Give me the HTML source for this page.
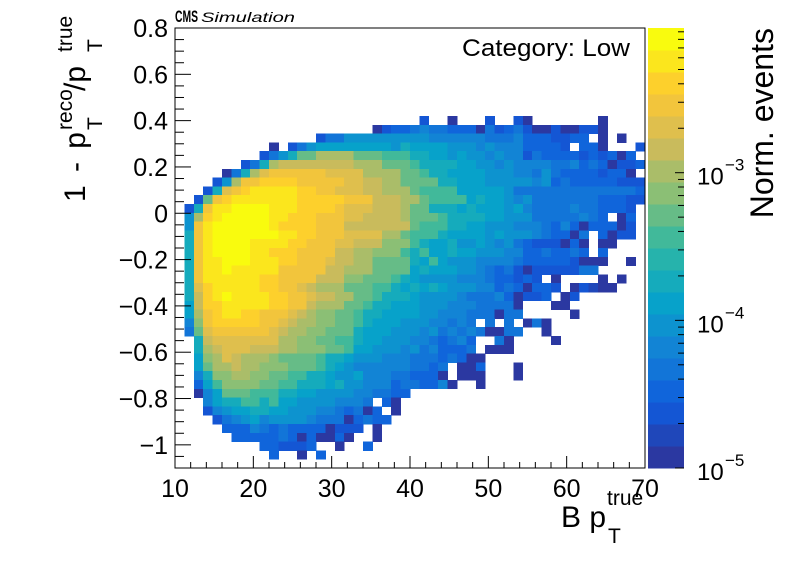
<!DOCTYPE html>
<html>
<head>
<meta charset="utf-8">
<style>
  html, body { margin: 0; padding: 0; background: #ffffff; }
  svg { display: block; font-family: "Liberation Sans", Arial, sans-serif; }
</style>
</head>
<body>
<svg id="chart" width="796" height="572" viewBox="0 0 796 572" xmlns="http://www.w3.org/2000/svg">
  <rect x="0" y="0" width="796" height="572" fill="#ffffff"/>
  <g id="cells" shape-rendering="crispEdges"></g>
  <g id="cbar" shape-rendering="crispEdges"></g>
  <rect x="175" y="28" width="470" height="440" fill="none" stroke="#000" stroke-width="1"/>
  <g id="xaxis"></g>
  <g id="yaxis"></g>
  <g id="caxis"></g>

  <text x="175" y="22" font-size="17" font-weight="bold" textLength="23" lengthAdjust="spacingAndGlyphs">CMS</text>
  <text x="201" y="22" font-size="14" font-style="italic" textLength="94" lengthAdjust="spacingAndGlyphs">Simulation</text>
  <text x="462" y="56" font-size="24" textLength="168" lengthAdjust="spacingAndGlyphs">Category: Low</text>

  <g>
    <text x="561" y="527" font-size="30">B p</text>
    <text x="608" y="543" font-size="21">T</text>
    <text x="607" y="505" font-size="21">true</text>
  </g>

  <g transform="translate(85,202) rotate(-90)">
    <text x="0" y="0" font-size="30" textLength="70" lengthAdjust="spacing">1 - p</text>
    <text x="72" y="17" font-size="21">T</text>
    <text x="72" y="-13" font-size="21">reco</text>
    <text x="111" y="0" font-size="30">/p</text>
    <text x="150" y="17" font-size="21">T</text>
    <text x="150" y="-13" font-size="21">true</text>
  </g>

  <text transform="translate(773,28) rotate(-90)" x="0" y="0" font-size="32" text-anchor="end">Norm. events</text>
</svg>
<script>
// ---- data ----
const xMin = 10, xMax = 70, nX = 50;
const yMin = -1.1, yMax = 0.8, nY = 50;
const zLogMin = -5.0, zLogMax = -2.02, nBands = 20;
const xTickValues = [10, 20, 30, 40, 50, 60, 70];
const xTickLabels = ["10", "20", "30", "40", "50", "60", "70"];
const yTickValues = [0.8, 0.6, 0.4, 0.2, 0, -0.2, -0.4, -0.6, -0.8, -1];
const yTickLabels = ["0.8", "0.6", "0.4", "0.2", "0", "\u22120.2", "\u22120.4", "\u22120.6", "\u22120.8", "\u22121"];
const zTickExponents = [-3, -4, -5];
const zTickLabels = ["\u22123", "\u22124", "\u22125"];
// level codes per row (row 0 = top y bin), 0..I = low..high density, '.' = empty
const rowIndex = [10,11,12,13,14,15,16,17,18,19,20,21,22,23,24,25,26,27,28,29,30,31,32,33,34,35,36,37,38,39,40,41,42,43,44,45,46,47,48];
const rowStart = [26,21,15,10,9,7,5,4,3,2,1,1,1,1,1,1,1,1,1,1,1,1,1,1,1,2,2,2,2,2,2,2,3,3,4,5,6,9,10];
const rowCodes = [
  "2..0...2..20.......0",
  "0233454433304234200200220",
  "24466666666655555544453332233.0.0",
  "0.246"+"77777777"+"68"+"77776665655533332.330...2",
  "2468AACCCCAAA999"+"887767665655243333232303",
  "248CDDDDDDDDCCCAAA"+"9888877665655554453430223",
  "048CEFFFFFFEEEECCCCA"+"A98877776665546433332330",
  "26CFFGGGGFFFFFEEDDCCA"+"AAA8877766666563433333222",
  "28EFGHHHHHGGFFEEEDDCCC"+"A999977777644444444444443",
  "2AFGHHHHHHHGGGGGFFFDDDC"+"CA99997877656444444433322",
  "28FHHIIIIHHHGGGGFEEEDDDC"+"AA8887877767544445443332",
  "6CGHIIIIIHHGGGFFFEEDDDDC"+"AAA988887766644444543.03",
  "6FHIIIIIIHGGGGFFFDDDDDDD"+"A99988776665554353033302",
  "8FHIIIIIIIHHGGFFFEEEECCA"+"9998777767666543304.3022",
  "8FHIIIIHHHHGGFFFEEDDDBBB"+"9877866765643222030.00",
  "8FHIIIIHHGGGFFFFDDCCBBB9"+"8977877666553343343.3",
  "8FHHIIIHHHGGFFFEDDCCAAAA"+"879766655554333332000..0",
  "8FHHIHHHHHFFFFFDDCCCAAAA"+"78777665434202222244",
  "8FHHHHHHGGFFFFDDDBBAAA98"+"76666555433232.0....0.0",
  "8EGHHHHHGGFFEDCCCAAA9987"+"8787666553430332.02100",
  "8DGHIHHHHGGFFEDDCCAA9888"+"766665444530223.02",
  "7DGGHHHHHGGFFDCCCAA98877"+"766655544440...00",
  "7CFGHHGGFFFEDCBBAA988777"+"766555444044.....0",
  "5BFGGGGGFFEDCCBBAA987776"+"6655454.4.4.040",
  "4AEFFFFFFEDCCBBAAA877766"+"656454540044..0",
  "8DEEEEEEECCBBAA99877666"+"5543453..40....0",
  "8CDEEEDDDCCBBBAA9776665"+"6453334.000",
  "7BCEDCCCBAAAA9887666555"+"44434300",
  "7ACCDCCBBBAAA98765555554"+"434.003...0",
  "58BBCCBBAA9988766755544"+"3330.000...0",
  "379BBBBAA99888786655534"+"43350..0",
  "057AAA99988776666554433",
  "578899897766665554.30",
  "2567788776665543403.0",
  "2456756666544403433",
  "333543433330222.0",
  "3333343030030..0",
  "332223..0..3",
  "3..0.3"
];
const levelChars = "0123456789ABCDEFGHI";

// ---- scales ----
const PX0 = 175, PX1 = 645, PY0 = 28, PY1 = 468;
function xScale(v) { return PX0 + (v - xMin) / (xMax - xMin) * (PX1 - PX0); }
function yScale(v) { return PY1 - (v - yMin) / (yMax - yMin) * (PY1 - PY0); }
function zScale(lv) { return PY1 - (lv - zLogMin) / (zLogMax - zLogMin) * (PY1 - PY0); }
const bw = (zLogMax - zLogMin) / nBands;

const R = [0.17,0.0592,0.0780,0.0232,0.1802,0.5301,0.8186,0.9956,0.9764];
const G = [0.22,0.3599,0.5041,0.6419,0.7178,0.7492,0.7328,0.7862,0.9832];
const B = [0.63,0.8684,0.8385,0.7914,0.6425,0.4662,0.3499,0.1968,0.0539];
function bird(t) {
  t = Math.max(0, Math.min(1, t));
  const s = t * 8, i = Math.min(7, Math.floor(s)), f = s - i;
  const c = a => Math.round(255 * (a[i] + (a[i + 1] - a[i]) * f));
  return "rgb(" + c(R) + "," + c(G) + "," + c(B) + ")";
}
function bandOf(value) {
  const b = Math.floor((Math.log10(value) - zLogMin) / bw);
  return Math.max(0, Math.min(nBands - 1, b));
}
function colorOf(value) { return bird(bandOf(value) / (nBands - 1)); }
function codeToValue(ch) {
  const idx = levelChars.indexOf(ch);
  const band = Math.round(idx * (nBands - 1) / (levelChars.length - 1));
  return Math.pow(10, zLogMin + (band + 0.5) * bw);
}

const NS = "http://www.w3.org/2000/svg";
function mk(tag, attrs, parent) {
  const e = document.createElementNS(NS, tag);
  for (const k in attrs) e.setAttribute(k, attrs[k]);
  parent.appendChild(e);
  return e;
}

// ---- heatmap cells ----
const cellsG = document.getElementById("cells");
const dx = (xMax - xMin) / nX, dy = (yMax - yMin) / nY;
for (let k = 0; k < rowIndex.length; k++) {
  const r = rowIndex[k];
  const codes = rowCodes[k];
  for (let j = 0; j < codes.length; j++) {
    const c = rowStart[k] + j;
    const ch = codes[j];
    if (ch === "." || c >= nX) continue;
    const val = codeToValue(ch);
    const x0 = xScale(xMin + c * dx), x1 = xScale(xMin + (c + 1) * dx);
    const yt = yScale(yMax - r * dy), yb = yScale(yMax - (r + 1) * dy);
    const cell = mk("rect", { x: x0.toFixed(2), y: yt.toFixed(2), width: (x1 - x0 + 0.4).toFixed(2), height: (yb - yt + 0.4).toFixed(2), fill: colorOf(val) }, cellsG);
    
    
  }
}

// ---- color bar ----
const cbG = document.getElementById("cbar");
for (let b = 0; b < nBands; b++) {
  const y0 = zScale(zLogMin + (b + 1) * bw), y1 = zScale(zLogMin + b * bw);
  const band = mk("rect", { x: 648, y: y0.toFixed(2), width: 36, height: (y1 - y0 + 0.4).toFixed(2), fill: bird(b / (nBands - 1)) }, cbG);
  
  
}

// ---- x axis ----
const xG = document.getElementById("xaxis");
for (let v = xMin; v <= xMax + 1e-9; v += 2) {
  const major = Math.abs(v % 10) < 1e-9;
  const x = xScale(v);
  const t = mk("line", { x1: x, x2: x, y1: PY1, y2: PY1 - (major ? 12 : 6), stroke: "#000", "stroke-width": 1 }, xG);
  
  
}
xTickValues.forEach((v, i) => {
  const t = mk("text", { x: xScale(v), y: 497, "font-size": 25, "text-anchor": "middle" }, xG);
  t.textContent = xTickLabels[i];
  
  
});

// ---- y axis ----
const yG = document.getElementById("yaxis");
for (let n = 0; n <= 38; n++) {
  const v = yMin + n * 0.05;
  const isMajor = Math.abs(Math.round(v * 10) / 10 - v) < 1e-6 && Math.round(Math.abs(v) * 10) % 2 === 0;
  const y = yScale(v);
  const t = mk("line", { x1: PX0, x2: PX0 + (isMajor ? 16 : 9), y1: y, y2: y, stroke: "#000", "stroke-width": 1 }, yG);
  
  
}
yTickValues.forEach((v, i) => {
  const t = mk("text", { x: 168, y: yScale(v) + 9, "font-size": 25, "text-anchor": "end" }, yG);
  t.textContent = yTickLabels[i];
  
  
});

// ---- color axis ----
const cG = document.getElementById("caxis");
for (let e = -5; e <= -3; e++) {
  for (let m = 1; m <= 9; m++) {
    const lv = e + Math.log10(m);
    if (lv < zLogMin - 1e-9 || lv > zLogMax) continue;
    const y = zScale(lv);
    const t = mk("line", { x1: 684, x2: 684 - (m === 1 ? 9 : 6), y1: y, y2: y, stroke: "#000", "stroke-width": 1 }, cG);
    
    
  }
}
zTickExponents.forEach((e, i) => {
  const y = zScale(e);
  const base = mk("text", { x: 697, y: y + 12, "font-size": 24 }, cG);
  base.textContent = "10";
  
  
  const sup = mk("text", { x: 725, y: y - 2, "font-size": 17 }, cG);
  sup.textContent = zTickLabels[i];
  
  
});
</script>
</body>
</html>
